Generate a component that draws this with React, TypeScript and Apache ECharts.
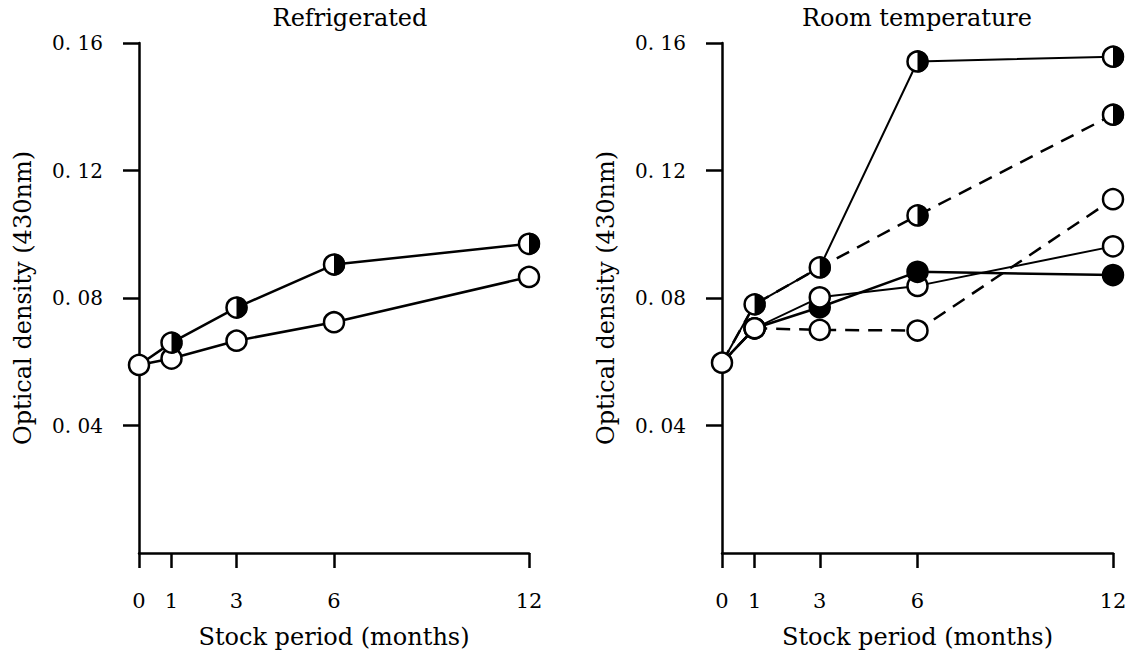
import React, { useEffect, useRef } from "react";
import * as echarts from "echarts";

// Stock period (months)
const months = [0, 1, 3, 6, 12];
const xTicks = [0, 1, 3, 6, 12];
const yTicks = [0.04, 0.08, 0.12, 0.16];

// Refrigerated
const refHalf = [0.059, 0.066, 0.077, 0.0905, 0.097];
const refOpen = [0.059, 0.061, 0.0666, 0.0724, 0.0866];

// Room temperature
const rtHalfSolid = [0.0597, 0.078, 0.0896, 0.1542, 0.1557];
const rtHalfDashed = [0.0597, 0.078, 0.0896, 0.1059, 0.1375];
const rtOpenSolid = [0.0597, 0.0705, 0.0802, 0.0838, 0.0962];
const rtFilledSolid = [0.0597, 0.0705, 0.0771, 0.0882, 0.0872];
const rtOpenDashed = [0.0597, 0.0705, 0.07, 0.0698, 0.111];

const FONT = "DejaVu Serif";

const pairs = (ys: number[], idx?: number[]) =>
  (idx ?? ys.map((_, i) => i)).map((i) => [months[i], ys[i]]);

const HALF_PATH = "path://M0,0A10,10,0,0,1,0,20Z";

function lineSeries(ys: number[], grid: number, dashed: boolean, width: number) {
  return {
    type: "line",
    xAxisIndex: grid,
    yAxisIndex: grid,
    data: pairs(ys),
    symbol: "none",
    silent: true,
    z: 2,
    lineStyle: { color: "#000", width, opacity: 1, type: dashed ? [14, 9] : "solid" },
  };
}

function markerSeries(data: number[][], grid: number, kind: "open" | "filled" | "half", z: number) {
  if (kind === "half") {
    return {
      type: "scatter",
      xAxisIndex: grid,
      yAxisIndex: grid,
      data,
      silent: true,
      z,
      symbol: HALF_PATH,
      symbolSize: [11, 22],
      symbolOffset: [5.5, 0],
      itemStyle: { color: "#000", opacity: 1 },
    };
  }
  return {
    type: "scatter",
    xAxisIndex: grid,
    yAxisIndex: grid,
    data,
    silent: true,
    z,
    symbol: "circle",
    symbolSize: 20,
    itemStyle: {
      color: kind === "open" ? "#fff" : "#000",
      borderColor: "#000",
      borderWidth: 2.5,
      opacity: 1,
    },
  };
}

function xAxis(grid: number) {
  return {
    type: "value",
    gridIndex: grid,
    min: 0,
    max: 12,
    name: "Stock period (months)",
    nameLocation: "middle",
    nameGap: 72,
    nameTextStyle: { fontFamily: FONT, fontSize: 24, color: "#000" },
    axisLine: { show: true, onZero: false, lineStyle: { color: "#000", width: 2.5 } },
    axisTick: { show: true, customValues: xTicks, length: 15, lineStyle: { color: "#000", width: 2.5 } },
    axisLabel: { customValues: xTicks, margin: 37, fontFamily: FONT, fontSize: 21, color: "#000" },
    splitLine: { show: false },
  };
}

function yAxis(grid: number) {
  return {
    type: "value",
    gridIndex: grid,
    min: 0,
    max: 0.16,
    interval: 0.04,
    name: "Optical density (430nm)",
    nameLocation: "middle",
    nameGap: 104,
    nameTextStyle: { fontFamily: FONT, fontSize: 24, color: "#000" },
    axisLine: { show: true, onZero: false, lineStyle: { color: "#000", width: 2.5 } },
    axisTick: { show: true, customValues: yTicks, length: 16, lineStyle: { color: "#000", width: 2.5 } },
    axisLabel: {
      customValues: yTicks,
      margin: 36,
      fontFamily: FONT,
      fontSize: 20,
      color: "#000",
      formatter: (v: number) => v.toFixed(2).replace(".", ". "),
    },
    splitLine: { show: false },
  };
}

export default function App() {
  const ref = useRef<HTMLDivElement>(null);
  useEffect(() => {
    if (!ref.current) return;
    const chart = echarts.init(ref.current, null, { renderer: "svg" });
    const option: any = {
      animation: false,
      backgroundColor: "#fff",
      grid: [
        { left: 139, right: 1132 - 529, top: 43, bottom: 654 - 556 },
        { left: 722, right: 1132 - 1113, top: 43, bottom: 654 - 556 },
      ],
      xAxis: [xAxis(0), xAxis(1)],
      yAxis: [yAxis(0), yAxis(1)],
      graphic: [
        {
          type: "text",
          x: 350,
          y: 6,
          style: { text: "Refrigerated", font: `24px "${FONT}"`, fill: "#000", textAlign: "center", textVerticalAlign: "top" },
        },
        {
          type: "text",
          x: 917,
          y: 6,
          style: { text: "Room temperature", font: `24px "${FONT}"`, fill: "#000", textAlign: "center", textVerticalAlign: "top" },
        },
      ],
      series: [
        // Refrigerated
        lineSeries(refOpen, 0, false, 2.5),
        lineSeries(refHalf, 0, false, 2.5),
        markerSeries(pairs(refOpen), 0, "open", 3),
        markerSeries(pairs(refHalf, [1, 2, 3, 4]), 0, "open", 4),
        markerSeries(pairs(refHalf, [1, 2, 3, 4]), 0, "half", 5),
        // Room temperature
        lineSeries(rtHalfSolid, 1, false, 2),
        lineSeries(rtOpenSolid, 1, false, 2),
        lineSeries(rtFilledSolid, 1, false, 2.5),
        lineSeries(rtHalfDashed, 1, true, 2.5),
        lineSeries(rtOpenDashed, 1, true, 2.5),
        markerSeries(pairs(rtFilledSolid, [1, 2]), 1, "filled", 3),
        markerSeries(pairs(rtOpenSolid), 1, "open", 4),
        markerSeries(pairs(rtOpenDashed, [1, 2, 3, 4]), 1, "open", 4),
        markerSeries(pairs(rtFilledSolid, [3, 4]), 1, "filled", 5),
        markerSeries(pairs(rtHalfSolid, [1, 2, 3, 4]), 1, "open", 6),
        markerSeries(pairs(rtHalfDashed, [3, 4]), 1, "open", 6),
        markerSeries(pairs(rtHalfSolid, [1, 2, 3, 4]), 1, "half", 7),
        markerSeries(pairs(rtHalfDashed, [3, 4]), 1, "half", 7),
      ],
    };
    chart.setOption(option);
    return () => chart.dispose();
  }, []);
  return (
    <div
      ref={ref}
      style={{ position: "fixed", left: 0, top: 0, width: 1132, height: 654, background: "#fff" }}
    />
  );
}
